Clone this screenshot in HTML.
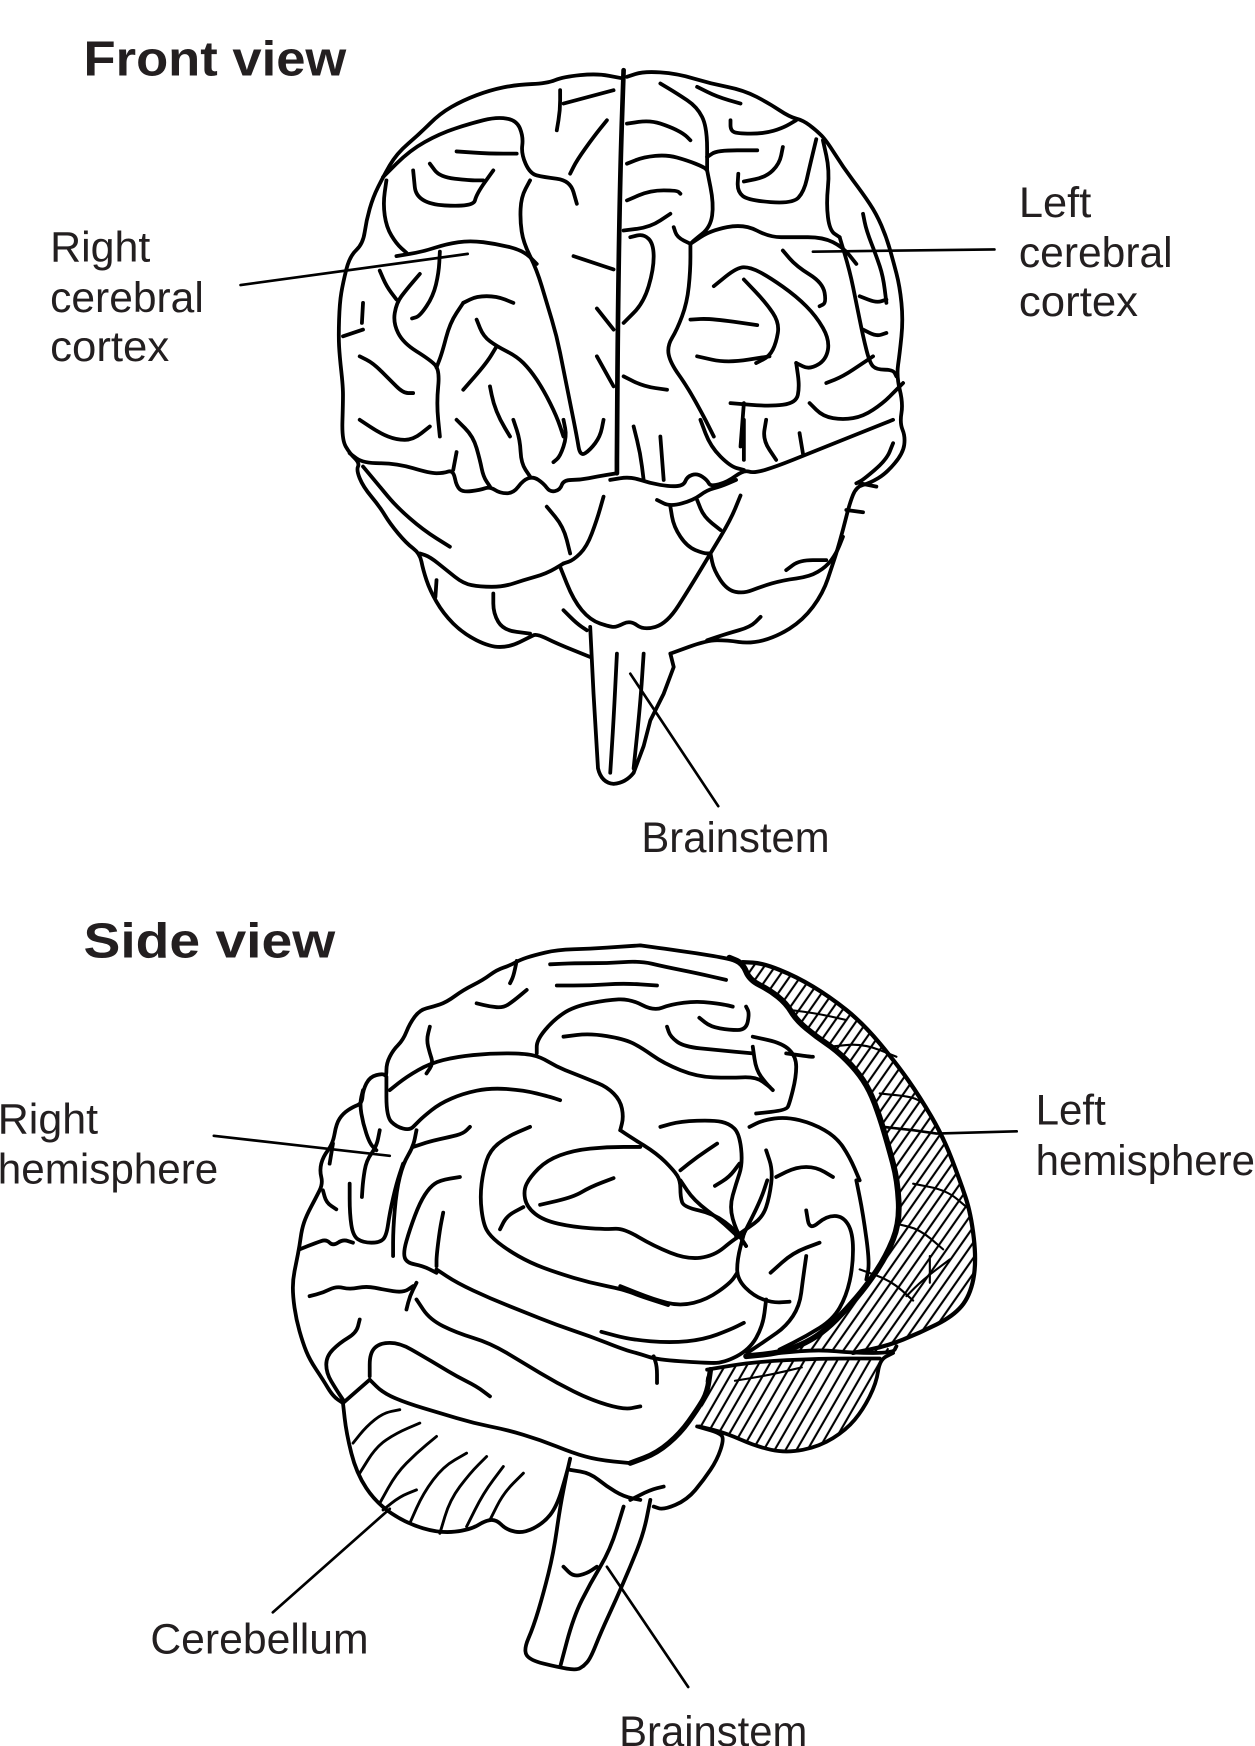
<!DOCTYPE html>
<html><head><meta charset="utf-8"><style>
html,body{margin:0;padding:0;background:#fff;}
svg{display:block;}
text{font-family:"Liberation Sans",sans-serif;fill:#231f20;}
</style></head><body>
<svg width="1255" height="1746" viewBox="0 0 1127 1568" preserveAspectRatio="none" xmlns="http://www.w3.org/2000/svg">
<defs>
<pattern id="hat" patternUnits="userSpaceOnUse" width="8" height="8" patternTransform="rotate(35)">
<line x1="4" y1="-2" x2="4" y2="10" stroke="#000" stroke-width="1.9"/>
</pattern>
<pattern id="hat2" patternUnits="userSpaceOnUse" width="8.5" height="8.5" patternTransform="rotate(30)">
<line x1="4" y1="-2" x2="4" y2="11" stroke="#000" stroke-width="1.9"/>
</pattern>
</defs>
<rect width="1127" height="1568" fill="#fff"/>

<!-- titles & labels -->
<text x="75" y="68" font-size="44" font-weight="bold" textLength="236" lengthAdjust="spacingAndGlyphs">Front view</text>
<text x="75" y="860" font-size="44" font-weight="bold" textLength="226" lengthAdjust="spacingAndGlyphs">Side view</text>
<g font-size="38">
<text x="45" y="235" textLength="90" lengthAdjust="spacingAndGlyphs">Right</text>
<text x="45" y="280" textLength="138" lengthAdjust="spacingAndGlyphs">cerebral</text>
<text x="45" y="324" textLength="107" lengthAdjust="spacingAndGlyphs">cortex</text>
<text x="915" y="195" textLength="65" lengthAdjust="spacingAndGlyphs">Left</text>
<text x="915" y="240" textLength="138" lengthAdjust="spacingAndGlyphs">cerebral</text>
<text x="915" y="284" textLength="107" lengthAdjust="spacingAndGlyphs">cortex</text>
<text x="576" y="765" textLength="169" lengthAdjust="spacingAndGlyphs">Brainstem</text>
<text x="-2" y="1018" textLength="90" lengthAdjust="spacingAndGlyphs">Right</text>
<text x="-2" y="1063" textLength="198" lengthAdjust="spacingAndGlyphs">hemisphere</text>
<text x="930" y="1010" textLength="63" lengthAdjust="spacingAndGlyphs">Left</text>
<text x="930" y="1055" textLength="197" lengthAdjust="spacingAndGlyphs">hemisphere</text>
<text x="135" y="1485" textLength="196" lengthAdjust="spacingAndGlyphs">Cerebellum</text>
<text x="556" y="1568" textLength="169" lengthAdjust="spacingAndGlyphs">Brainstem</text>
</g>

<!-- leader lines -->
<g stroke="#000" stroke-width="2.4" fill="none" stroke-linecap="round">
<path d="M216,256 L420,228"/>
<path d="M730,226 L893,224"/>
<path d="M566,605 L645,724"/>
<path d="M192,1020 L350,1038"/>
<path d="M793,1012 L820,1015 L841,1018 L913,1016"/>
<path d="M350,1355 L245,1448"/>
<path d="M545,1407 L618,1515"/>
</g>

<!-- FRONT VIEW -->
<g class="sm" stroke="#000" stroke-width="3.4" fill="none" stroke-linecap="round" stroke-linejoin="round">
<path d="M557,70 L536,66 L506,69 L491,75 L464,76 L440,81 L416,90 L395,102 L377,120 L356,138 L344,159 L335,177 L329,198 L326,219 L314,230 L308,254 L305,272 L304,302 L305,320 L308,347 L308,362 L307,395 L314,407 L323,416 L320,422 L326,437 L341,455 L350,470 L365,488 L377,497 L380,512 L386,530 L398,551 L416,569 L440,581 L458,581 L476,572 L482,569 L500,578 L530,590"/>
<path d="M563,69 L578,64 L608,66 L638,75 L668,81 L691,93 L709,105 L721,108 L733,117 L742,126 L757,150 L775,174 L787,192 L796,213 L802,234 L808,257 L811,287 L808,317 L805,338 L811,362 L808,380 L813,392 L811,407 L796,425 L781,434 L769,437 L763,452 L757,476 L751,497 L748,506 L739,533 L721,557 L697,572 L674,578 L653,575 L635,575 L602,587"/>
<path d="M560,63 L557,153 L555,272 L554,401 L554,425" stroke-width="4.2"/>
<!-- brainstem -->
<path d="M530,563 L533,623 L537,690 Q540,703 551,704 Q562,703 569,694 L578,670 L584,647 L596,623 L605,599 L602,587"/>
<path d="M554,587 L551,647 L548,694"/>
<path d="M578,587 L575,632 L569,690"/>
<!-- lower front -->
<path d="M503,509 L515,539 L530,557 L548,563 L554,563 L566,557 L578,566 L599,560 L620,527 L638,497 L656,467 L665,445"/>
<path d="M542,446 L536,467 L527,491 L515,503 L506,506"/>
<path d="M491,455 L506,473 L512,497"/>
<path d="M377,497 L386,500 L401,512 L416,524 L431,527 L452,527 L470,521 L491,515 L506,506"/>
<path d="M326,419 L341,437 L356,455 L380,476 L404,491"/>
<path d="M392,521 L391,536"/>
<path d="M443,533 L443,551 L452,566 L476,569"/>
<path d="M506,548 L518,560 L527,566"/>
<path d="M548,431 L566,428 L584,434 L602,437 L614,436 L617,428 L626,425 L635,431 L638,437 L653,433 L668,422 L677,425 L697,419 L727,407 L757,395 L787,383 L802,377"/>
<path d="M314,407 L326,416 L356,416 L386,425 L398,425 L407,422 L410,437 L416,442 L431,440 L440,437 L449,443 L461,443 L470,431 L479,428 L488,434 L494,442 L503,440 L506,431 L521,431 L536,428 L554,425"/>
<path d="M410,406 L407,422"/>
<path d="M590,449 L602,455 L623,449 L635,440 L647,437 L661,431"/>
<path d="M602,455 L605,473 L617,491 L632,497 L638,497"/>
<path d="M626,449 L632,464 L647,476"/>
<path d="M638,497 L641,512 L653,530 L668,533 L683,527 L703,521 L727,518 L742,509 L751,497 L757,482"/>
<path d="M706,512 L718,503 L742,503"/>
<path d="M683,554 L674,563 L653,569 L635,575"/>
<path d="M802,398 L796,413 L775,431 L769,434"/>
<path d="M772,434 L787,437"/>
<path d="M760,458 L775,460"/>
<path d="M569,383 L575,407 L578,431"/>
<path d="M593,392 L596,431"/>
<path d="M629,377 L638,401 L656,419 L668,422"/>
<path d="M668,377 L668,413"/>
<path d="M688,377 L685,395 L697,413"/>
<path d="M718,389 L721,407"/>
<path d="M410,377 L425,392 L431,413 L434,428 L440,437"/>
<path d="M461,377 L467,395 L468,416 L476,428"/>
<path d="M506,377 L509,392 L503,410 L497,415"/>
<path d="M323,377 L341,389 L356,395 L371,395 L386,383"/>
<!-- right hemi middle/top -->
<path d="M356,230 L380,226 L401,219 L422,216 L446,219 L470,225 L482,237"/>
<path d="M344,159 L368,135 L395,120 L422,111 L446,105 L464,108 L470,123 L468,138 L476,156 L488,159 L512,162 L518,183"/>
<path d="M371,153 L374,183 L425,186 L428,174 L443,153"/>
<path d="M386,147 L395,159 L422,162 L434,162"/>
<path d="M410,136 L440,138 L464,138"/>
<path d="M503,81 L503,99 L500,117"/>
<path d="M506,93 L551,81"/>
<path d="M545,108 L533,123 L518,144 L512,156"/>
<path d="M476,162 L468,177 L467,198 L470,218 L482,242 L491,272 L500,302 L506,332 L512,362 L518,392 L521,410 L530,404 L539,392 L542,377"/>
<path d="M515,230 L533,236 L551,242"/>
<path d="M536,277 L551,296"/>
<path d="M536,320 L551,347"/>
<path d="M395,226 L394,245 L389,266 L377,284 L370,286"/>
<path d="M377,246 L365,260 L356,272 L353,290 L362,308 L386,323 L395,332 L392,362 L395,392"/>
<path d="M416,272 L428,266 L446,266 L461,272"/>
<path d="M416,272 L404,290 L397,317 L392,330"/>
<path d="M428,287 L434,302 L446,311 L464,320 L476,332 L488,350 L500,374 L506,392"/>
<path d="M416,350 L437,326 L446,311"/>
<path d="M440,347 L443,362 L449,377 L458,392"/>
<path d="M323,320 L335,326 L350,341 L362,353 L371,353"/>
<path d="M347,162 L344,183 L347,204 L356,219 L365,227"/>
<path d="M341,243 L347,257 L356,269"/>
<path d="M326,272 L325,290"/>
<path d="M308,302 L326,296"/>
<!-- left hemi -->
<path d="M593,75 L608,84 L626,96 L635,114 L635,153"/>
<path d="M635,141 L644,135 L680,135"/>
<path d="M626,78 L644,87 L665,93"/>
<path d="M656,108 L656,117 L662,120 L686,120 L703,115 L715,108"/>
<path d="M563,111 L584,108 L602,114 L614,120 L620,126"/>
<path d="M563,147 L578,141 L599,139 L617,144 L632,150 L635,153"/>
<path d="M703,132 L700,147 L688,159 L668,163"/>
<path d="M663,156 L662,172 L672,180 L712,183 L722,172 L727,150 L733,125"/>
<path d="M563,180 L584,171 L608,171 L611,174"/>
<path d="M560,207 L584,204 L602,192"/>
<path d="M605,204 L608,213 L620,219"/>
<path d="M635,153 L641,183 L638,204 L623,216 L620,219"/>
<path d="M620,219 L620,243 L617,272 L608,296 L599,311 L602,326 L617,347 L632,374 L641,392"/>
<path d="M620,219 L638,207 L668,201 L691,213 L712,213 L739,213 L757,222 L769,237"/>
<path d="M703,225 L715,239 L739,254 L742,272 L736,275"/>
<path d="M641,257 L662,240 L674,240 L691,249 L715,266 L733,284 L745,305 L742,323 L727,332 L715,326"/>
<path d="M668,251 L688,272 L700,290 L697,308 L691,320 L679,326"/>
<path d="M620,287 L638,286 L680,292"/>
<path d="M626,320 L653,326 L691,320"/>
<path d="M715,326 L718,347 L715,362 L691,365 L656,362"/>
<path d="M754,213 L763,243 L769,272 L775,302 L781,326 L787,332 L802,332 L805,338"/>
<path d="M775,192 L778,207 L787,230 L793,248 L796,272"/>
<path d="M739,126 L745,153 L742,183 L745,207 L754,213"/>
<path d="M772,266 L787,272 L796,269"/>
<path d="M775,296 L787,302 L796,299"/>
<path d="M742,344 L757,338 L775,326 L784,320"/>
<path d="M560,290 L578,272 L587,242 L587,219 L578,210 L566,213"/>
<path d="M560,338 L578,347 L599,350"/>
<path d="M668,362 L665,401"/>
<path d="M727,362 L739,374 L757,377 L775,374 L793,362 L805,350 L811,344"/>
</g>

<!-- SIDE VIEW hatching fills -->
<path d="M667,864 L685,865 L715,877 L745,895 L775,919 L805,955 L826,985 L847,1021 L862,1060 L872,1090 L877,1134 L871,1164 L856,1182 L826,1197 L796,1209 L802,1215 L766,1215 L736,1212 L700,1215 L724,1206 L742,1194 L760,1176 L778,1155 L796,1128 L808,1098 L806,1060 L798,1030 L790,1003 L781,979 L769,961 L751,943 L733,931 L715,916 L706,901 L691,889 L673,880 Z" fill="url(#hat)"/>
<path d="M635,1230 L677,1223 L736,1220 L790,1220 L792,1222 L787,1242 L775,1266 L760,1284 L736,1299 L706,1305 L679,1299 L652,1287 L628,1281 L632,1254 Z" fill="url(#hat2)"/>

<g class="sm" stroke="#000" stroke-width="3.4" fill="none" stroke-linecap="round" stroke-linejoin="round">
<!-- outline -->
<path d="M575,849 L560,850 L530,852 L500,853 L479,858 L467,862 L458,867 L446,871 L434,880 L416,889 L401,900 L389,904 L377,907 L368,919 L362,934 L353,943 L347,955 L347,967 L344,964 L332,967 L326,979 L325,991 L317,994 L308,1000 L302,1009 L299,1027 L290,1039 L287,1051 L290,1063 L284,1075 L275,1092 L271,1104 L269,1119 L266,1134 L263,1149 L263,1164 L266,1185 L272,1206 L278,1221 L290,1239 L299,1254 L308,1260"/>
<path d="M575,849 L596,852 L626,856 L655,861 L667,865"/>
<path d="M655,860 L667,865 L673,880 L691,889 L706,901 L715,916 L733,931 L751,943 L769,961 L781,979 L790,1003 L798,1030 L806,1060 L808,1098 L796,1128 L778,1155 L760,1176 L742,1194 L724,1206 L700,1215 L670,1218" stroke-width="5.2"/>
<path d="M667,864 L685,865 L715,877 L745,895 L775,919 L805,955 L826,985 L847,1021 L862,1060 L872,1090 L877,1134 L871,1164 L856,1182 L826,1197 L796,1209 L766,1215" stroke-width="3.8"/>
<path d="M700,1215 L736,1212 L766,1215 L802,1215 L805,1209"/>
<path d="M635,1230 L677,1223 L736,1220 L790,1220"/>
<path d="M802,1215 L790,1221 L787,1242 L775,1266 L760,1284 L736,1299 L706,1305 L679,1299 L652,1287 L628,1281"/>
<path d="M638,1230 L635,1251 L626,1266 L611,1287 L590,1305 L566,1314" stroke-width="4.8"/>
<!-- crosshatch curves -->
<g stroke-width="1.9">
<path d="M709,907 L733,910 L760,916"/>
<path d="M745,940 L775,937 L805,949"/>
<path d="M790,982 L820,985 L829,991"/>
<path d="M805,1099 L826,1104 L847,1122"/>
<path d="M820,1063 L850,1069 L868,1084"/>
<path d="M814,1164 L829,1149 L853,1131"/>
<path d="M835,1128 L835,1152"/>
<path d="M772,1140 L800,1150 L820,1168"/>
<path d="M660,1240 L690,1235 L720,1228"/>
</g>
<!-- interior gyri -->
<path d="M473,889 L461,899 L452,905 L440,904 L428,901"/>
<path d="M464,863 L461,877 L458,883"/>
<path d="M386,922 L383,934 L386,946 L389,955 L383,964"/>
<path d="M350,979 L365,967 L386,955 L410,949 L440,946 L470,946 L485,949 L500,958 L515,964 L530,970 L545,976 L557,988 L560,1003 L557,1015"/>
<path d="M347,967 L347,1003 L356,1012 L368,1015 L374,1009 L380,1003 L395,991 L416,982 L440,977 L470,979 L494,985 L503,988"/>
<path d="M374,1015 L371,1030 L362,1045 L356,1069 L353,1104 L353,1128"/>
<path d="M371,1030 L386,1025 L404,1021 L416,1018 L422,1012"/>
<path d="M482,946 L482,934 L497,916 L515,904 L545,898 L566,897 L587,908 L602,902 L626,899 L650,902 L658,904"/>
<path d="M506,931 L530,928 L560,933 L575,940 L596,955 L626,967 L655,968 L679,967 L691,976"/>
<path d="M494,866 L515,865 L545,865 L575,863 L596,868 L626,874 L652,880"/>
<path d="M500,885 L530,885 L560,883 L590,885"/>
<path d="M628,914 L638,922 L655,925 L670,925 L673,910 L670,904"/>
<path d="M599,922 L602,931 L614,940 L644,943 L676,946"/>
<path d="M676,931 L703,937 L715,949 L715,967 L709,991 L706,997 L679,1000"/>
<path d="M676,940 L679,961 L688,973 L694,979"/>
<path d="M706,946 L727,949 L730,949"/>
<path d="M476,1012 L455,1021 L440,1033 L434,1051 L431,1075 L434,1099 L440,1110 L455,1122 L476,1134 L500,1143 L530,1152 L560,1158 L575,1164 L600,1172"/>
<path d="M557,1015 L566,1021 L590,1036 L605,1051 L611,1060 L611,1075 L614,1084 L641,1090 L661,1105 L670,1119"/>
<path d="M575,1030 L545,1030 L515,1033 L491,1042 L476,1057 L470,1069 L473,1084 L488,1096 L515,1102 L545,1104 L560,1103 L587,1119 L617,1131 L641,1128 L659,1113 L668,1108"/>
<path d="M668,1108 L662,1131 L662,1149 L677,1164 L694,1170 L709,1169"/>
<path d="M557,1155 L587,1167 L611,1173 L635,1167 L656,1152 L662,1143"/>
<path d="M689,1060 L683,1078 L668,1108"/>
<path d="M611,1060 L623,1078 L647,1096 L662,1110"/>
<path d="M724,1087 L727,1105 L742,1092 L757,1092 L766,1107 L766,1137 L760,1164 L748,1185 L724,1200 L700,1212"/>
<path d="M692,1143 L712,1125 L736,1116"/>
<path d="M724,1128 L721,1149 L718,1173 L706,1191 L689,1203 L671,1215"/>
<path d="M769,1060 L775,1090 L781,1134 L778,1149"/>
<path d="M551,1058 L530,1066 L515,1075 L485,1082"/>
<path d="M470,1084 L455,1092 L449,1104"/>
<path d="M413,1057 L395,1060 L386,1066 L377,1080 L368,1104 L362,1125 L365,1134 L380,1137 L392,1143"/>
<path d="M398,1089 L395,1104 L392,1128 L392,1137"/>
<path d="M392,1140 L410,1152 L440,1166 L470,1178 L500,1190 L530,1200 L560,1212 L575,1216 L590,1221 L632,1224 L650,1224 L673,1212 L685,1191 L688,1167"/>
<path d="M374,1167 L386,1185 L410,1197 L440,1206 L470,1224 L500,1242 L530,1257 L560,1266 L575,1263"/>
<path d="M540,1196 L566,1203 L602,1206 L632,1203 L656,1194 L668,1188"/>
<path d="M587,1218 L590,1227 L590,1242"/>
<path d="M593,1012 L611,1007 L641,1006 L655,1009 L664,1018 L667,1045 L661,1063 L655,1084 L661,1105 L670,1119"/>
<path d="M673,1012 L685,1006 L706,1003 L730,1009 L751,1021 L763,1039 L772,1060"/>
<path d="M644,1027 L626,1039 L611,1051"/>
<path d="M642,1065 L655,1057 L664,1045"/>
<path d="M688,1033 L694,1051 L691,1075 L685,1093 L670,1104 L661,1110"/>
<path d="M697,1057 L715,1048 L733,1048 L748,1057"/>
<!-- far-left lobes -->
<path d="M326,979 L323,991 L326,1009 L332,1027 L338,1033"/>
<path d="M341,1015 L338,1030 L329,1042 L326,1060 L325,1075"/>
<path d="M299,1027 L296,1045"/>
<path d="M314,1063 L314,1090 L317,1110 L326,1116 L341,1116 L347,1110 L350,1089 L356,1063 L362,1045"/>
<path d="M290,1069 L293,1080 L302,1086"/>
<path d="M269,1122 L284,1116 L293,1113 L299,1119 L308,1113 L317,1116"/>
<path d="M278,1164 L290,1161 L302,1155 L314,1158 L329,1155 L344,1158 L362,1161 L371,1155"/>
<path d="M374,1152 L368,1164 L365,1176"/>
<!-- temporal lobe & cerebellum -->
<path d="M323,1185 L320,1197 L305,1206 L293,1218 L293,1233 L302,1248 L308,1257"/>
<path d="M332,1236 L332,1215 L341,1206 L359,1206 L380,1218 L395,1227 L410,1236 L428,1245 L440,1254"/>
<path d="M332,1239 L344,1251 L365,1260 L395,1269 L425,1278 L455,1284 L485,1293 L515,1305 L536,1311 L566,1314"/>
<path d="M308,1260 L332,1239"/>
<path d="M308,1260 L311,1287 L320,1323 L338,1350 L365,1368 L395,1377 L422,1374 L437,1365 L446,1365 L455,1374 L470,1377 L488,1368 L500,1353 L509,1323 L512,1310"/>
<g stroke-width="2.6">
<path d="M317,1296 L329,1281 L344,1269 L359,1266"/>
<path d="M323,1323 L338,1299 L356,1287 L377,1278"/>
<path d="M341,1350 L356,1323 L374,1305 L392,1290"/>
<path d="M368,1368 L380,1341 L398,1317 L419,1305"/>
<path d="M395,1377 L404,1347 L422,1323 L437,1308"/>
<path d="M419,1371 L434,1341 L452,1317"/>
<path d="M440,1365 L452,1341 L470,1323"/>
<path d="M344,1356 L359,1344 L374,1338"/>
</g>
<!-- brainstem side -->
<path d="M509,1323 L503,1353 L497,1395 L488,1431 L479,1461 L470,1482 L476,1491 L500,1497 L518,1500 L524,1496"/>
<path d="M584,1347 L578,1377 L566,1407 L553,1437 L540,1465 L530,1490 L524,1496"/>
<path d="M560,1353 L548,1392 L530,1422 L515,1452 L503,1497"/>
<path d="M506,1407 L515,1416 L527,1413 L536,1407"/>
<path d="M512,1320 L530,1323 L545,1335 L560,1344 L575,1347"/>
<path d="M566,1347 L584,1338 L596,1335"/>
<path d="M626,1281 L647,1287 L650,1293 L644,1311 L632,1329 L617,1347 L596,1356 L587,1353"/>
</g>
</svg>
<script>
(function(){
  var ps=document.querySelectorAll('g.sm path');
  for(var k=0;k<ps.length;k++){
    var p=ps[k], d=p.getAttribute('d');
    if(/[ZzQqCc]/.test(d)) continue;
    var n=d.match(/-?\d+(\.\d+)?/g); if(!n) continue;
    n=n.map(Number);
    var pts=[]; for(var i=0;i+1<n.length;i+=2) pts.push([n[i],n[i+1]]);
    if(pts.length<3) continue;
    var s='M'+pts[0][0]+','+pts[0][1]+' L'+((pts[0][0]+pts[1][0])/2)+','+((pts[0][1]+pts[1][1])/2);
    for(var j=1;j<pts.length-1;j++){
      var mx=(pts[j][0]+pts[j+1][0])/2, my=(pts[j][1]+pts[j+1][1])/2;
      s+=' Q'+pts[j][0]+','+pts[j][1]+' '+mx+','+my;
    }
    var l=pts[pts.length-1]; s+=' L'+l[0]+','+l[1];
    p.setAttribute('d',s);
  }
})();
</script>
</body></html>
